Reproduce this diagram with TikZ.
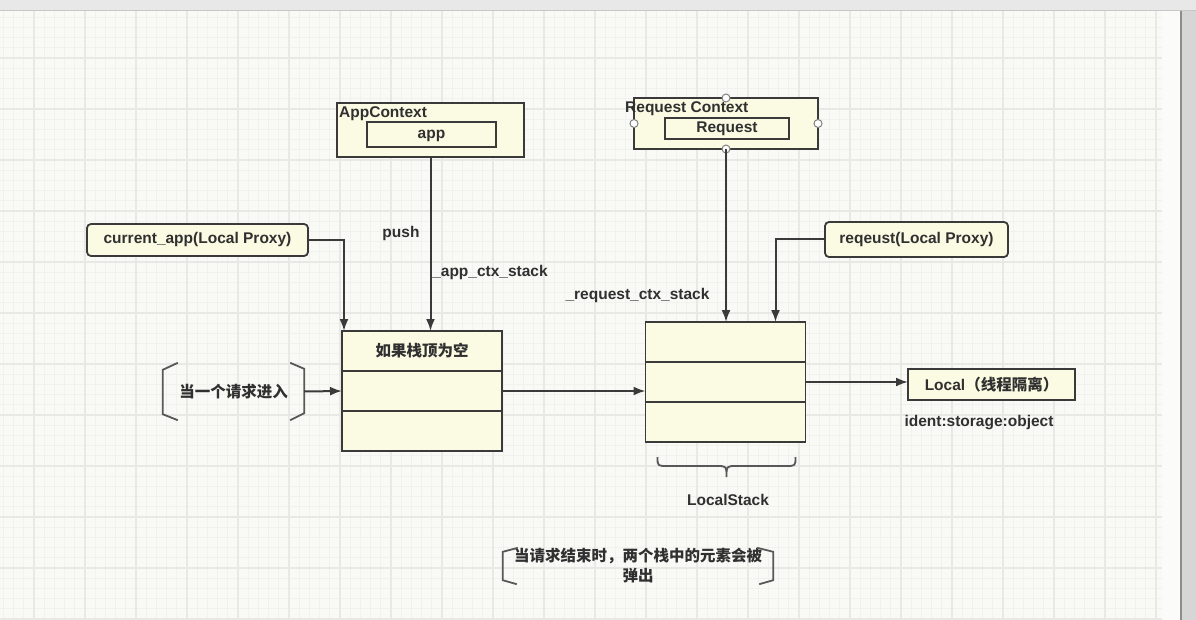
\documentclass[tikz,border=0pt]{standalone}
\usepackage{fontspec}
\setmainfont{Liberation Sans}
\newfontfamily\cjk{Noto Sans CJK SC}
\usetikzlibrary{arrows.meta, calc, positioning}

\definecolor{boxfill}{HTML}{FBFBE3}
\definecolor{edge}{HTML}{3A3A3A}
\definecolor{ink}{HTML}{303030}
\definecolor{paper}{HTML}{F9FAF6}
\definecolor{gridminor}{HTML}{F1F2ED}
\definecolor{gridmajor}{HTML}{E8E9E4}

\begin{document}
\begin{tikzpicture}[>={Latex[length=12pt,width=9pt]}, x=1pt, y=-1pt,
	font=\bfseries\fontsize{15.5}{20}\selectfont, text=ink]
	\tikzstyle{ctxbox} = [draw=edge, line width=1.8pt, fill=boxfill, inner sep=0pt, outer sep=0pt]
	\tikzstyle{proxy} = [ctxbox, rounded corners=4pt]
	\tikzstyle{cell} = [ctxbox, minimum width=160pt, minimum height=40pt]
	\tikzstyle{conn} = [draw=edge, line width=2pt]
	\tikzstyle{bracket} = [draw=edge!85, line width=1.8pt]
	\tikzstyle{handle} = [circle, draw=gray, fill=white, line width=1pt, minimum size=8pt, inner sep=0pt]
	\tikzstyle{lowtext} = [text height=11pt, text depth=3pt]

	% canvas
	\useasboundingbox (0,0) rectangle (1196,620);
	\fill[paper] (0,0) rectangle (1196,620);
	\begin{scope}[shift={(34,7)}]
		\draw[gridminor, line width=0.8pt] (-34,613) grid[step=10.2pt] (1128,3);
		\draw[gridmajor, line width=1.2pt] (-34,613) grid[step=51pt] (1128,3);
	\end{scope}
	\fill[paper!60!white] (1162,10) rectangle (1180,620);
	\fill[black!16] (1180,10) rectangle (1196,620);
	\draw[black!45, line width=2pt] (1181,10) -- (1181,620);
	\fill[black!9] (0,0) rectangle (1196,10);
	\draw[black!22, line width=1pt] (0,10.5) -- (1196,10.5);

	% contexts
	\node[ctxbox, minimum width=187pt, minimum height=54pt] (appctx) at (430.5,130) {};
	\node[ctxbox, lowtext, minimum width=129pt, minimum height=25pt] (app) at (431.5,134.5) {app};
	\node[anchor=north west, inner sep=0pt] (applabel) at ([xshift=2pt, yshift=-3pt]appctx.north west) {AppContext};

	\node[ctxbox, minimum width=184pt, minimum height=51pt] (reqctx) at (726,123.5) {};
	\node[ctxbox, minimum width=124pt, minimum height=21pt] (request) at (727,128.5) {Request};
	\node[anchor=north west, inner sep=0pt] (reqlabel) at ([xshift=-9pt, yshift=-3pt]reqctx.north west) {Request Context};
	\foreach \a in {north, south, east, west}
		\node[handle] at (reqctx.\a) {};

	% proxies
	\node[proxy, lowtext, minimum width=221pt, minimum height=32pt] (curproxy) at (197.5,240) {current\_app(Local Proxy)};
	\node[proxy, minimum width=183pt, minimum height=35pt] (reqproxy) at (916.5,239.5) {reqeust(Local Proxy)};

	% stacks
	\node[cell] (s1a) at (422,351) {\cjk 如果栈顶为空};
	\node[cell, below=0pt of s1a] (s1b) {};
	\node[cell, below=0pt of s1b] (s1c) {};

	\node[cell] (s2a) at (725.5,342) {};
	\node[cell, below=0pt of s2a] (s2b) {};
	\node[cell, below=0pt of s2b] (s2c) {};

	\node[ctxbox, minimum width=167pt, minimum height=31pt] (local) at (991.5,384.5) {Local{\cjk （线程隔离）}};
	\node (ident) at (979,423) {ident:storage:object};

	% request in / out
	\node[minimum width=141pt, minimum height=57pt] (enter) at (233.5,391.5) {\cjk 当一个请求进入};
	\draw[bracket] ([xshift=15pt]enter.north west) -- ([yshift=-7pt]enter.north west)
		-- ([yshift=6pt]enter.south west) -- ([xshift=15pt]enter.south west);
	\draw[bracket] ([xshift=-14pt]enter.north east) -- ([yshift=-6pt]enter.north east)
		-- ([yshift=7pt]enter.south east) -- ([xshift=-14pt]enter.south east);

	\node[minimum width=270pt, minimum height=36pt, align=center, inner sep=0pt] (leave) at (638,566)
		{\cjk 当请求结束时，两个栈中的元素会被\\\cjk 弹出};
	\draw[bracket] ([xshift=15pt]leave.north west) -- ([yshift=-4pt]leave.north west)
		-- ([yshift=4pt]leave.south west) -- ([xshift=14pt]leave.south west);
	\draw[bracket] ([xshift=-16pt]leave.north east) -- ([yshift=-4pt]leave.north east)
		-- ([yshift=4pt]leave.south east) -- ([xshift=-14pt]leave.south east);

	% brace under the second stack
	\draw[bracket] ([xshift=12pt, yshift=-15pt]s2c.south west) coordinate (bl)
		.. controls ($(bl)+(0,9)$) .. ($(bl)+(10,9)$) -- ($(bl)+(59,9)$)
		.. controls ($(bl)+(69,9)$) .. ($(bl)+(69,20)$)
		.. controls ($(bl)+(69,9)$) .. ($(bl)+(79,9)$) -- ($(bl)+(128,9)$)
		.. controls ($(bl)+(138,9)$) .. ($(bl)+(138,0)$);
	\node (localstack) at (728,500) {LocalStack};

	% connectors
	\draw[->, conn] (appctx.south) -- (appctx.south |- s1a.north);
	\node (push) at (401,233) {push};
	\node (appstack) at (490,272) {\_app\_ctx\_stack};
	\draw[->, conn] (reqctx.south) -- (reqctx.south |- s2a.north);
	\node (reqstack) at (637.5,295) {\_request\_ctx\_stack};

	\draw[->, conn] (curproxy.east) -| ([xshift=2pt]s1a.north west);
	\draw[->, conn] (reqproxy.west) -| ([xshift=-30pt]s2a.north east);

	\draw[->, conn] (enter.east) -- (s1b.west);
	\draw[->, conn] (s1b.east) -- (s1b.east -| s2b.west);
	\draw[->, conn] (s2b.east) -- (s2b.east -| local.west);
\end{tikzpicture}
\end{document}
